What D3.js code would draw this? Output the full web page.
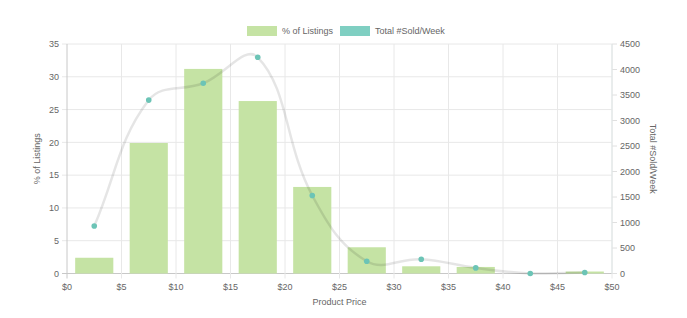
<!DOCTYPE html>
<html>
<head>
<meta charset="utf-8">
<script src="https://cdn.jsdelivr.net/npm/d3@7"></script>
<style>
  body { margin: 0; background: #fff; }
  text { font-family: "Liberation Sans", Arial, sans-serif; fill: #666; }
</style>
</head>
<body>
<div id="chart"></div>
<script>
// price buckets (centres) and the two series
const priceBins = [2.5, 7.5, 12.5, 17.5, 22.5, 27.5, 32.5, 37.5, 42.5, 47.5];
const pctListings = [2.4, 19.9, 31.2, 26.3, 13.2, 4.0, 1.1, 1.0, 0, 0.3];
const soldPerWeek = [930, 3400, 3730, 4240, 1530, 240, 280, 110, 0, 20];
const xTicks = [0, 5, 10, 15, 20, 25, 30, 35, 40, 45, 50];
const leftTicks = [0, 5, 10, 15, 20, 25, 30, 35];
const rightTicks = [0, 500, 1000, 1500, 2000, 2500, 3000, 3500, 4000, 4500];

const width = 687, height = 318;
const margin = { top: 44, right: 75, bottom: 44.5, left: 67 };

const svg = d3.select("#chart").append("svg")
  .attr("width", width).attr("height", height);

const x = d3.scaleLinear().domain([0, 50]).range([margin.left, width - margin.right]);
const yL = d3.scaleLinear().domain([0, 35]).range([height - margin.bottom, margin.top]);
const yR = d3.scaleLinear().domain([0, 4500]).range([height - margin.bottom, margin.top]);

const x0 = margin.left, x1 = width - margin.right;
const y0 = height - margin.bottom, y1 = margin.top;

// grid
svg.append("g").selectAll("line").data(leftTicks).join("line")
  .attr("x1", x0 - 5).attr("x2", x1)
  .attr("y1", d => yL(d)).attr("y2", d => yL(d))
  .attr("stroke", d => d === 0 ? "#c8c8c8" : "#e8e8e8").attr("stroke-width", 1);

svg.append("g").selectAll("line").data(xTicks).join("line")
  .attr("x1", d => x(d)).attr("x2", d => x(d))
  .attr("y1", y1).attr("y2", y0 + 5)
  .attr("stroke", (d, i) => i === 0 ? "#c8c8c8" : "#e8e8e8").attr("stroke-width", 1);

// right axis ticks
svg.append("g").selectAll("line").data(rightTicks).join("line")
  .attr("x1", x1).attr("x2", x1 + 5)
  .attr("y1", d => yR(d)).attr("y2", d => yR(d))
  .attr("stroke", "#e0e0e0");
svg.append("line").attr("x1", x1).attr("x2", x1).attr("y1", y1).attr("y2", y0)
  .attr("stroke", "#dfe6e6");

// tick labels
svg.append("g").selectAll("text").data(leftTicks).join("text")
  .attr("x", x0 - 8).attr("y", d => yL(d)).attr("dy", "0.35em")
  .attr("text-anchor", "end").attr("font-size", 9).text(d => d);

svg.append("g").selectAll("text").data(rightTicks).join("text")
  .attr("x", x1 + 8).attr("y", d => yR(d)).attr("dy", "0.35em")
  .attr("text-anchor", "start").attr("font-size", 9).text(d => d);

svg.append("g").selectAll("text").data(xTicks).join("text")
  .attr("x", d => x(d)).attr("y", y0 + 13).attr("dy", "0.35em")
  .attr("text-anchor", "middle").attr("font-size", 9).text(d => "$" + d);

// axis titles
svg.append("text").attr("transform", `translate(40,${(y0 + y1) / 2}) rotate(-90)`)
  .attr("text-anchor", "middle").attr("font-size", 9).text("% of Listings");
svg.append("text").attr("transform", `translate(650,${(y0 + y1) / 2}) rotate(90)`)
  .attr("text-anchor", "middle").attr("font-size", 9).text("Total #Sold/Week");
svg.append("text").attr("x", (x0 + x1) / 2).attr("y", 305)
  .attr("text-anchor", "middle").attr("font-size", 9).text("Product Price");

// bars
const step = x(5) - x(0);
const barW = step * 0.7;
svg.append("g").selectAll("rect").data(priceBins.map((p, i) => ({ p, v: pctListings[i] })))
  .join("rect")
  .attr("x", d => x(d.p) - barW / 2)
  .attr("y", d => yL(d.v))
  .attr("width", barW)
  .attr("height", d => y0 - yL(d.v))
  .attr("fill", "#c5e3a4");

// line: Chart.js-style spline (tension 0.4)
const pts = priceBins.map((p, i) => [x(p), yR(soldPerWeek[i])]);
const t = 0.4;
const ctrl = pts.map((p, i) => {
  const prev = pts[i - 1] || p, next = pts[i + 1] || p;
  const d01 = Math.hypot(p[0] - prev[0], p[1] - prev[1]);
  const d12 = Math.hypot(next[0] - p[0], next[1] - p[1]);
  let s01 = d01 / (d01 + d12), s12 = d12 / (d01 + d12);
  if (isNaN(s01)) s01 = 0;
  if (isNaN(s12)) s12 = 0;
  const fa = t * s01, fb = t * s12;
  const clampY = v => Math.max(y1, Math.min(y0, v));
  return {
    prev: [p[0] - fa * (next[0] - prev[0]), clampY(p[1] - fa * (next[1] - prev[1]))],
    next: [p[0] + fb * (next[0] - prev[0]), clampY(p[1] + fb * (next[1] - prev[1]))]
  };
});
const path = d3.path();
path.moveTo(pts[0][0], pts[0][1]);
for (let i = 1; i < pts.length; i++) {
  const c1 = ctrl[i - 1].next, c2 = ctrl[i].prev;
  path.bezierCurveTo(c1[0], c1[1], c2[0], c2[1], pts[i][0], pts[i][1]);
}
svg.append("path").attr("d", path.toString())
  .attr("fill", "none").attr("stroke", "rgba(0,0,0,0.1)").attr("stroke-width", 2.5);

svg.append("g").selectAll("circle").data(pts).join("circle")
  .attr("cx", d => d[0]).attr("cy", d => d[1]).attr("r", 2.8)
  .attr("fill", "#6cc4b6");

// legend
const legend = [
  { label: "% of Listings", color: "#c5e3a4", x: 247 },
  { label: "Total #Sold/Week", color: "#7fcfc2", x: 340 }
];
const lg = svg.append("g").selectAll("g").data(legend).join("g")
  .attr("transform", d => `translate(${d.x},26)`);
lg.append("rect").attr("width", 30).attr("height", 10).attr("fill", d => d.color);
lg.append("text").attr("x", 35).attr("y", 5).attr("dy", "0.35em")
  .attr("font-size", 9).text(d => d.label);
</script>
</body>
</html>
